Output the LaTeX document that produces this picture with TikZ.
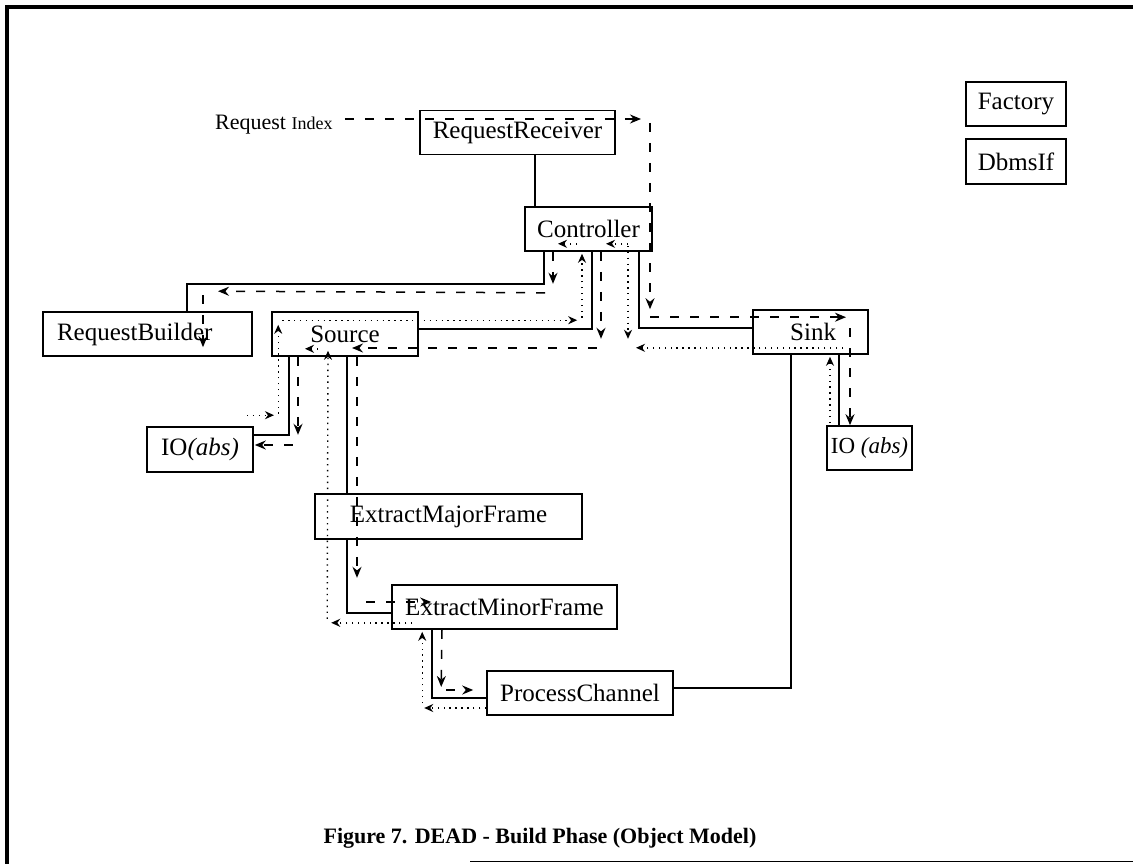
\documentclass[tikz,border=0pt]{standalone}
\usepackage{fontspec}
\setmainfont{Liberation Serif}
\usetikzlibrary{arrows.meta}
\newcommand\boxfont{\fontsize{25}{28}\selectfont}
\newcommand\smallboxfont{\fontsize{23}{26}\selectfont}
\tikzset{
  box/.style={draw, line width=1.6pt, inner sep=0pt, minimum height=44pt, font=\boxfont},
  sol/.style={line width=1.8pt},
  dsh/.style={line width=1.5pt, dash pattern=on 9pt off 11pt, -{Stealth[length=11pt,width=9pt]}},
  dot/.style={line width=1.4pt, dash pattern=on 1.4pt off 4.5pt, -{Stealth[length=9pt,width=8pt]}},
}
\begin{document}
\begin{tikzpicture}[x=1pt,y=-1pt]
\useasboundingbox (0,0) rectangle (1133,864);
% frame
\draw[line width=3.5pt] (5,7) -- (1133,7);
\draw[line width=3.5pt] (7,5) -- (7,864);
\draw[line width=1pt] (470,861) -- (1133,861);

% nodes
\node[box, minimum width=195pt] (rr) at (517.5,132.5) {RequestReceiver};
\node[box, minimum width=127pt] (ctrl) at (588.5,229) {Controller};
\node[box, inner xsep=14pt, text width=181pt, align=left] (rb) at (147.5,334) {RequestBuilder};
\node[box, minimum width=146pt] (src) at (345,334) {Source};
\node[box, inner xsep=32pt, text width=51pt, align=right] (sink) at (810.5,332) {Sink};
\node[box, minimum width=106pt, minimum height=45pt] (iol) at (200,449.5) {IO\textit{(abs)}};
\node[box, minimum width=85pt, font=\smallboxfont] (ior) at (869.5,448) {IO \textit{(abs)}};
\node[box, minimum width=267pt, minimum height=45pt] (emf) at (448.5,516.5) {ExtractMajorFrame};
\node[box, minimum width=225pt] (eminf) at (504.5,607) {ExtractMinorFrame};
\node[box, minimum width=186pt] (pc) at (580,693) {ProcessChannel};
\node[box, minimum width=100pt, minimum height=44pt] (fac) at (1016,104) {Factory};
\node[box, minimum width=100pt, minimum height=45pt] (dbms) at (1016,161.5) {DbmsIf};
\node[anchor=west, inner sep=0pt] (ri) at (215,125) {\fontsize{22}{24}\selectfont Request {\fontsize{18}{20}\selectfont Index}};
\node[font=\fontsize{22}{26}\selectfont\bfseries] (cap) at (540,838) {Figure 7. DEAD - Build Phase (Object Model)};

\coordinate (riend) at (641,119);
\coordinate (rtop) at (650,123);

% solid connectors
\draw[sol] ([xshift=17.5pt]rr.south) -- ([xshift=-53.5pt]ctrl.north);
\draw[sol] ([xshift=-44.5pt]ctrl.south) -- ++(0,32) -| ([xshift=39.5pt]rb.north);
\draw[sol] ([yshift=5pt]src.east) -| ([xshift=3.5pt]ctrl.south);
\draw[sol] ([xshift=50.5pt]ctrl.south) |- ([yshift=4pt]sink.west);
\draw[sol] ([xshift=-56pt]src.south) |- ([yshift=14.5pt]iol.east);
\draw[sol] ([xshift=2pt]src.south) -- ([xshift=-101.5pt]emf.north);
\draw[sol] ([xshift=-101.5pt]emf.south) |- ([yshift=-6pt]eminf.west);
\draw[sol] ([xshift=-72.5pt]eminf.south) |- ([yshift=-5pt]pc.west);
\draw[sol] ([xshift=-19.5pt]sink.south) |- ([yshift=5pt]pc.east);
\draw[sol] ([xshift=28.5pt]sink.south) -- ([xshift=-30.5pt]ior.north);

% dashed connectors
\draw[dsh] ([xshift=12pt,yshift=6pt]ri.east) -- (riend);
\draw[dsh] (rtop) -- (rtop |- sink.north);
\draw[dsh] ([xshift=-160.5pt,yshift=-8pt]sink.north) -- ([xshift=35.5pt,yshift=-8pt]sink.north);
\draw[dsh] ([xshift=39.5pt,yshift=4pt]sink.center) -- ([xshift=-19.5pt]ior.north);
\draw[dsh] ([xshift=-35.5pt]ctrl.south) -- ++(0,32);
\draw[dsh] ([xshift=-43.5pt,yshift=-41pt]ctrl.south) -- ([xshift=70.5pt,yshift=20pt]rb.north);
\draw[dsh] ([xshift=55.5pt,yshift=16pt]rb.north) -- ([xshift=55.5pt,yshift=-36pt]rb.north);
\draw[dsh] ([xshift=12.5pt]ctrl.south) -- ++(0,87);
\draw[dsh] ([xshift=178pt,yshift=-14pt]src.east) -- ([xshift=7pt,yshift=-14pt]src.center);
\draw[dsh] ([xshift=12pt]src.south) -- ([xshift=-91.5pt,yshift=-38pt]emf.south);
\draw[dsh] ([xshift=-25pt,yshift=5pt]eminf.west) -- ([xshift=40pt,yshift=5pt]eminf.west);
\draw[dsh] ([xshift=-62.5pt]eminf.south) -- ([xshift=-45pt,yshift=6pt]pc.west);
\draw[dsh] ([xshift=-40pt,yshift=3pt]pc.west) -- ([xshift=-13pt,yshift=3pt]pc.west);
\draw[dsh] ([xshift=-47pt]src.south) -- ([xshift=-47pt,yshift=-78pt]src.south);
\draw[dsh] ([xshift=39pt,yshift=4.5pt]iol.east) -- ([xshift=1pt,yshift=4.5pt]iol.east);

% dotted connectors
\draw[dot] ([xshift=47pt,yshift=11pt]iol.north) -- ([xshift=74pt,yshift=11pt]iol.north);
\draw[dot] ([xshift=7pt,yshift=-57pt]src.south west) -- ([xshift=7pt,yshift=32pt]src.south west);
\draw[dot] ([xshift=11pt,yshift=-9pt]src.north west) -- ([xshift=306pt,yshift=-9pt]src.north west);
\draw[dot] ([xshift=-6.5pt,yshift=-66pt]ctrl.south) -- ([xshift=-6.5pt,yshift=-2pt]ctrl.south);
\draw[dot] ([xshift=-11.5pt,yshift=8pt]ctrl.south) -- ([xshift=-30.5pt,yshift=8pt]ctrl.south);
\draw[dot] ([xshift=32.5pt,yshift=7pt]sink.south) -- ([xshift=-174.5pt,yshift=7pt]sink.south);
\draw[dot] ([xshift=39.5pt,yshift=6pt]ctrl.south) -- ([xshift=39.5pt,yshift=-87pt]ctrl.south);
\draw[dot] ([xshift=39.5pt,yshift=8pt]ctrl.south) -- ([xshift=17.5pt,yshift=8pt]ctrl.south);
\draw[dot] ([xshift=-39.5pt,yshift=2pt]ior.north) -- ([xshift=19.5pt,yshift=-2pt]sink.south);
\draw[dot] ([xshift=21pt,yshift=7pt]eminf.south west) -- ([xshift=-60pt,yshift=7pt]eminf.south west);
\draw[dot] ([xshift=-64pt,yshift=11pt]eminf.south west) -- ([xshift=-17pt,yshift=6pt]src.south);
\draw[dot] ([xshift=-27pt,yshift=8pt]src.south) -- ([xshift=-40pt,yshift=8pt]src.south);
\draw[dot] ([yshift=-15pt]pc.west) -- ([xshift=-62pt,yshift=-15pt]pc.west);
\draw[dot] ([xshift=-64pt,yshift=-10pt]pc.west) -- ([xshift=31pt,yshift=-2pt]eminf.south west);
\end{tikzpicture}
\end{document}
